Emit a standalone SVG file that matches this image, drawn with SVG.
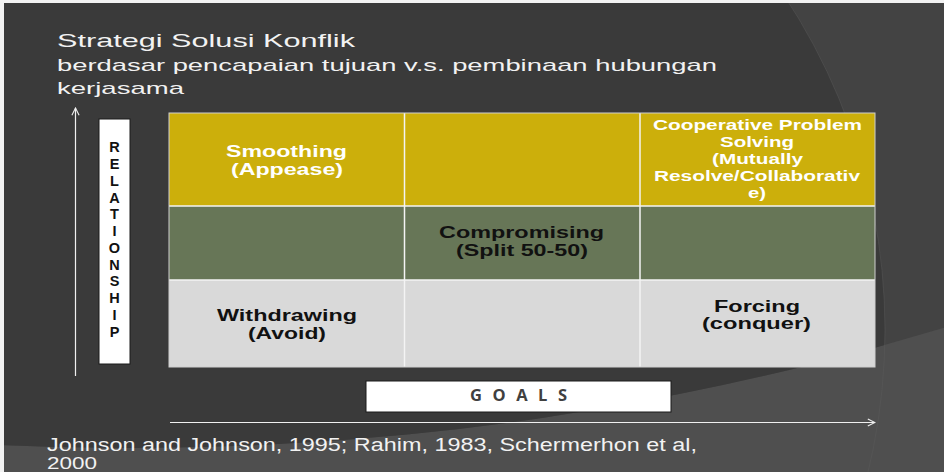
<svg xmlns="http://www.w3.org/2000/svg" width="944" height="472" viewBox="0 0 944 472">
  <defs>
    <style>
      .title { font-family: "Liberation Sans", Arial, sans-serif; fill: #f2f2f2; }
      .cell { font-family: "Liberation Sans", Arial, sans-serif; font-weight: bold; text-anchor: middle; }
      .light { fill: #ffffff; }
      .dark { fill: #111111; }
      .axis-letter { font-family: "Liberation Sans", Arial, sans-serif; font-weight: bold; font-size: 14.5px; fill: #111111; text-anchor: middle; }
      .grid { stroke: #f4f4f4; stroke-width: 1.5; fill: none; }
      .axis { stroke: #f0f0f0; stroke-width: 1.2; fill: none; }
    </style>
    <marker id="open-arrow" viewBox="0 0 10 10" refX="9" refY="5" markerWidth="9" markerHeight="9" markerUnits="userSpaceOnUse" orient="auto">
      <path d="M1,1 L9,5 L1,9" fill="none" stroke="#f0f0f0" stroke-width="1.2"/>
    </marker>
    <clipPath id="big-arc">
      <circle cx="132" cy="-2356" r="2804"/>
    </clipPath>
  </defs>

  <!-- slide background with the sweeping arcs -->
  <rect width="944" height="472" fill="#4f4f4f"/>
  <circle cx="132" cy="-2356" r="2804" fill="#434343"/>
  <circle cx="280" cy="330" r="605" fill="#3a3a3a" clip-path="url(#big-arc)"/>
  <circle cx="280" cy="330" r="605" fill="none" stroke="#5c5c5c" stroke-opacity="0.45" stroke-width="1"/>
  <rect x="0" y="0" width="944" height="3" fill="#f2f2f2"/>
  <rect x="0" y="0" width="4" height="472" fill="#f2f2f2"/>

  <!-- heading -->
  <g id="heading">
    <text class="title" x="57" y="47" font-size="18.5" textLength="298" lengthAdjust="spacingAndGlyphs">Strategi Solusi Konflik</text>
    <text class="title" x="57" y="70.5" font-size="17" textLength="660" lengthAdjust="spacingAndGlyphs">berdasar pencapaian tujuan v.s. pembinaan hubungan</text>
    <text class="title" x="57" y="94" font-size="17" textLength="127" lengthAdjust="spacingAndGlyphs">kerjasama</text>
  </g>

  <!-- strategy grid -->
  <g id="grid">
    <rect x="169" y="113" width="706" height="93" fill="#ccaf0b"/>
    <rect x="169" y="206" width="706" height="74" fill="#677657"/>
    <rect x="169" y="280" width="706" height="87" fill="#d9d9d9"/>
    <path class="grid" d="M404.5,113 V367 M640,113 V367 M169,206 H875 M169,280 H875"/>
    <rect x="169" y="113" width="706" height="254" fill="none" stroke="#cfcfcf" stroke-width="1"/>
  </g>

  <g id="smoothing">
    <text class="cell light" x="286.5" y="157" font-size="16.5" textLength="121" lengthAdjust="spacingAndGlyphs">Smoothing</text>
    <text class="cell light" x="287" y="175" font-size="16.5" textLength="112" lengthAdjust="spacingAndGlyphs">(Appease)</text>
  </g>

  <g id="cooperative">
    <text class="cell light" x="757.5" y="130" font-size="14" textLength="209" lengthAdjust="spacingAndGlyphs">Cooperative Problem</text>
    <text class="cell light" x="757" y="147" font-size="14" textLength="74" lengthAdjust="spacingAndGlyphs">Solving</text>
    <text class="cell light" x="757.5" y="164" font-size="14" textLength="91" lengthAdjust="spacingAndGlyphs">(Mutually</text>
    <text class="cell light" x="757" y="181" font-size="14" textLength="206" lengthAdjust="spacingAndGlyphs">Resolve/Collaborativ</text>
    <text class="cell light" x="757" y="198" font-size="14" textLength="18" lengthAdjust="spacingAndGlyphs">e)</text>
  </g>

  <g id="compromising">
    <text class="cell dark" x="521.5" y="238" font-size="16.5" textLength="165" lengthAdjust="spacingAndGlyphs">Compromising</text>
    <text class="cell dark" x="522" y="256" font-size="16.5" textLength="132" lengthAdjust="spacingAndGlyphs">(Split 50-50)</text>
  </g>

  <g id="withdrawing">
    <text class="cell dark" x="287" y="321" font-size="16.5" textLength="140" lengthAdjust="spacingAndGlyphs">Withdrawing</text>
    <text class="cell dark" x="287" y="339" font-size="16.5" textLength="78" lengthAdjust="spacingAndGlyphs">(Avoid)</text>
  </g>

  <g id="forcing">
    <text class="cell dark" x="757" y="312" font-size="16.5" textLength="86" lengthAdjust="spacingAndGlyphs">Forcing</text>
    <text class="cell dark" x="756.5" y="329" font-size="16.5" textLength="109" lengthAdjust="spacingAndGlyphs">(conquer)</text>
  </g>

  <!-- vertical axis label -->
  <g id="relationship-label">
    <rect x="99" y="119" width="31" height="245" fill="#ffffff" stroke="#1a1a1a" stroke-width="1"/>
    <text class="axis-letter" x="114.5" y="152.3">R</text>
    <text class="axis-letter" x="114.5" y="169.1">E</text>
    <text class="axis-letter" x="114.5" y="185.8">L</text>
    <text class="axis-letter" x="114.5" y="202.6">A</text>
    <text class="axis-letter" x="114.5" y="219.3">T</text>
    <text class="axis-letter" x="114.5" y="236.1">I</text>
    <text class="axis-letter" x="114.5" y="252.9">O</text>
    <text class="axis-letter" x="114.5" y="269.6">N</text>
    <text class="axis-letter" x="114.5" y="286.4">S</text>
    <text class="axis-letter" x="114.5" y="303.1">H</text>
    <text class="axis-letter" x="114.5" y="319.9">I</text>
    <text class="axis-letter" x="114.5" y="336.7">P</text>
  </g>

  <!-- horizontal axis label -->
  <g id="goals-label">
    <rect x="366" y="381" width="305" height="31" fill="#ffffff" stroke="#1a1a1a" stroke-width="1"/>
    <text x="470" y="401" font-family="'Open Sans', 'Liberation Sans', sans-serif" font-weight="bold" font-size="16.5" fill="#404040" textLength="97" lengthAdjust="spacing">GOALS</text>
  </g>

  <!-- axes -->
  <g id="connectors">
    <line class="axis" x1="75.5" y1="376" x2="75.5" y2="108" marker-end="url(#open-arrow)"/>
    <line class="axis" x1="170" y1="422.5" x2="875" y2="422.5" marker-end="url(#open-arrow)"/>
  </g>

  <!-- source -->
  <g id="source">
    <text class="title" x="47" y="451" font-size="17.5" textLength="650" lengthAdjust="spacingAndGlyphs">Johnson and Johnson, 1995; Rahim, 1983, Schermerhon et al,</text>
    <text class="title" x="47" y="468.5" font-size="17" textLength="50" lengthAdjust="spacingAndGlyphs">2000</text>
  </g>
</svg>
